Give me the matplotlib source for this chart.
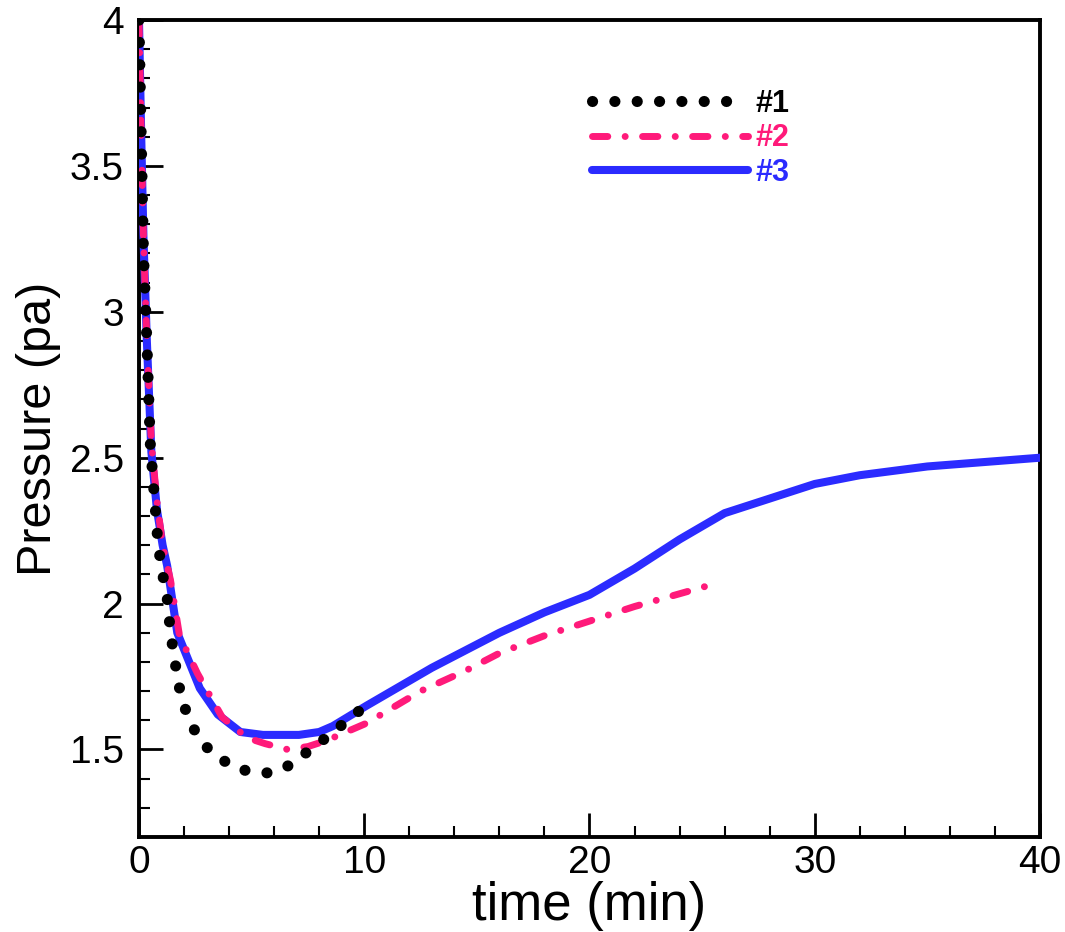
'''

  Pressure vs time for cases #1, #2, #3

'''

import numpy as np
from matplotlib import pyplot as plt
from matplotlib.ticker import MultipleLocator

plt.rcParams['font.family'] = ['Liberation Sans', 'DejaVu Sans']

# Data

t1 = [0, 0.1, 0.2, 0.35, 0.5, 0.7, 0.85, 1.05, 1.25, 1.4, 1.7, 1.9, 2.25, 2.7,
      3.4, 4.2, 5.1, 5.9, 6.8, 7.6, 8.3, 9.1, 9.9]
p1 = [4.0, 3.6, 3.2, 2.9, 2.55, 2.35, 2.2, 2.1, 2.02, 1.9, 1.75, 1.67, 1.6, 1.53,
      1.48, 1.44, 1.42, 1.42, 1.45, 1.50, 1.54, 1.59, 1.64]

t2 = [0, 0.1, 0.2, 0.35, 0.55, 0.8, 1.05, 1.4, 1.8, 2.6, 3.7, 4.8, 5.6, 6.6, 7.5,
      8.3, 10.1, 12.5, 14.5, 16, 18, 20, 22, 25.2]
p2 = [4.0, 3.6, 3.25, 2.9, 2.55, 2.35, 2.2, 2.08, 1.89, 1.76, 1.61, 1.54, 1.52,
      1.50, 1.51, 1.53, 1.59, 1.70, 1.77, 1.83, 1.89, 1.94, 1.99, 2.06]

t3 = [0, 0.1, 0.2, 0.35, 0.55, 0.8, 1.05, 1.25, 1.7, 2.7, 3.5, 4.5, 5.5, 7.1, 8.0,
      8.6, 10.1, 13, 16, 18, 20, 22, 24, 26, 28, 30, 32, 35, 40]
p3 = [4.0, 3.6, 3.25, 2.9, 2.52, 2.32, 2.2, 2.13, 1.90, 1.71, 1.62, 1.56, 1.55,
      1.55, 1.56, 1.58, 1.65, 1.78, 1.90, 1.97, 2.03, 2.12, 2.22, 2.31, 2.36,
      2.41, 2.44, 2.47, 2.50]

labels = ['#1', '#2', '#3']

# Plot

fig = plt.figure(figsize=(10.65, 9.32), dpi=100)
ax = fig.add_axes([0.1305, 0.1019, 0.846, 0.8766])

ax.plot(t3, p3, '-', color='#2b2bff', linewidth=5.8, solid_capstyle='round',
        label=labels[2], zorder=3)
ax.plot(t2, p2, color='#ff1a7a', linewidth=5.0, linestyle=(0, (2.2, 2.5, 0.01, 2.5)),
        dash_capstyle='round', label=labels[1], zorder=4)
ax.plot(t1, p1, color='black', linewidth=8.0, linestyle=(0, (0.01, 2.0)),
        dash_capstyle='round', label=labels[0], zorder=5)

ax.set_xlim(0, 40)
ax.set_ylim(1.2, 4)
ax.xaxis.set_major_locator(MultipleLocator(10))
ax.xaxis.set_minor_locator(MultipleLocator(2))
ax.yaxis.set_minor_locator(MultipleLocator(0.1))
ax.set_yticks([1.5, 2, 2.5, 3, 3.5, 4])
ax.set_yticklabels(['1.5', '2', '2.5', '3', '3.5', '4'])

ax.tick_params(which='major', direction='in', length=17, width=2, labelsize=28)
ax.tick_params(which='minor', direction='in', length=8, width=1.5)
ax.tick_params(axis='x', which='major', pad=6)
ax.tick_params(axis='y', which='major', pad=11)
for sp in ax.spines.values():
    sp.set_linewidth(2.8)

ax.set_xlabel('time (min)', fontsize=38, labelpad=0)
ax.set_ylabel('Pressure (pa)', fontsize=35, labelpad=6)

h, l = ax.get_legend_handles_labels()
ax.legend(h[::-1], l[::-1], loc='upper left', bbox_to_anchor=(0.503, 0.916),
          frameon=False, borderpad=0, borderaxespad=0, handlelength=5.1,
          handletextpad=0.25, labelspacing=0.15, labelcolor='linecolor',
          prop={'weight': 'bold', 'size': 22})

plt.savefig('out.png', dpi=100)
